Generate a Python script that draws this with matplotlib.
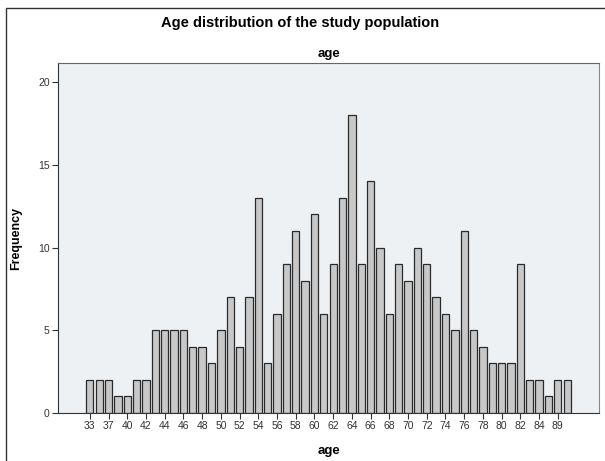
import matplotlib
matplotlib.use("Agg")
import matplotlib.pyplot as plt
from matplotlib.patches import Rectangle

# age categories (only every other one is labelled in the chart)
ages = ["33", "36", "37", "38", "40", "41", "42", "43", "44", "45", "46",
        "47", "48", "49", "50", "51", "52", "53", "54", "55", "56", "57",
        "58", "59", "60", "61", "62", "63", "64", "65", "66", "67", "68",
        "69", "70", "71", "72", "73", "74", "75", "76", "77", "78", "79",
        "80", "81", "82", "83", "84", "86", "89", "90"]
freq = [2, 2, 2, 1, 1, 2, 2, 5, 5, 5, 5, 4, 4, 3, 5, 7, 4, 7, 13, 3, 6, 9,
        11, 8, 12, 6, 9, 13, 18, 9, 14, 10, 6, 9, 8, 10, 9, 7, 6, 5, 11, 5,
        4, 3, 3, 3, 9, 2, 2, 1, 2, 2]
yticks = [0, 5, 10, 15, 20]

plt.rcParams["font.family"] = ["Liberation Sans", "DejaVu Sans"]

W, H = 605, 461
fig = plt.figure(figsize=(W / 100, H / 100), dpi=100)

# outer chart frame (cut off on right and bottom like the original)
fig.patches.append(Rectangle((6 / W, -0.05), 1.0, 1 - 8 / H + 0.05,
                             transform=fig.transFigure, fill=False,
                             edgecolor="#333333", linewidth=1.0))

ax = fig.add_axes([58 / W, (H - 413) / H, (599 - 58) / W, (413 - 63) / H])
ax.set_facecolor("#eef1f4")

x = list(range(len(ages)))
ax.bar(x, freq, width=0.78, color="#c8c8c8", edgecolor="#2b2b2b",
       linewidth=0.9, zorder=2)

ax.set_xlim(-3.4, 54.4)
ax.set_ylim(0, 21.15)
ax.set_xticks(x[::2])
ax.set_xticklabels(ages[::2], fontsize=7.5, color="#333333")
ax.set_yticks(yticks)
ax.set_yticklabels([str(v) for v in yticks], fontsize=7.5, color="#333333")
ax.tick_params(axis="both", length=4, width=0.8, color="#333333", pad=2)

ax.spines["left"].set_color("#333333")
ax.spines["bottom"].set_color("#333333")
ax.spines["top"].set_color("#666666")
ax.spines["right"].set_color("#888888")

ax.set_ylabel("Frequency", fontsize=9, fontweight="bold")
ax.yaxis.set_label_coords((22 - 58) / (599 - 58), 0.5)
ax.set_xlabel("age", fontsize=9.5, fontweight="bold", labelpad=10)
ax.set_title("age", fontsize=9.5, fontweight="bold", pad=4)
fig.text(300 / W, 1 - 23 / H, "Age distribution of the study population",
         ha="center", va="center", fontsize=10.5, fontweight="bold")

fig.savefig("out.png", dpi=100)
